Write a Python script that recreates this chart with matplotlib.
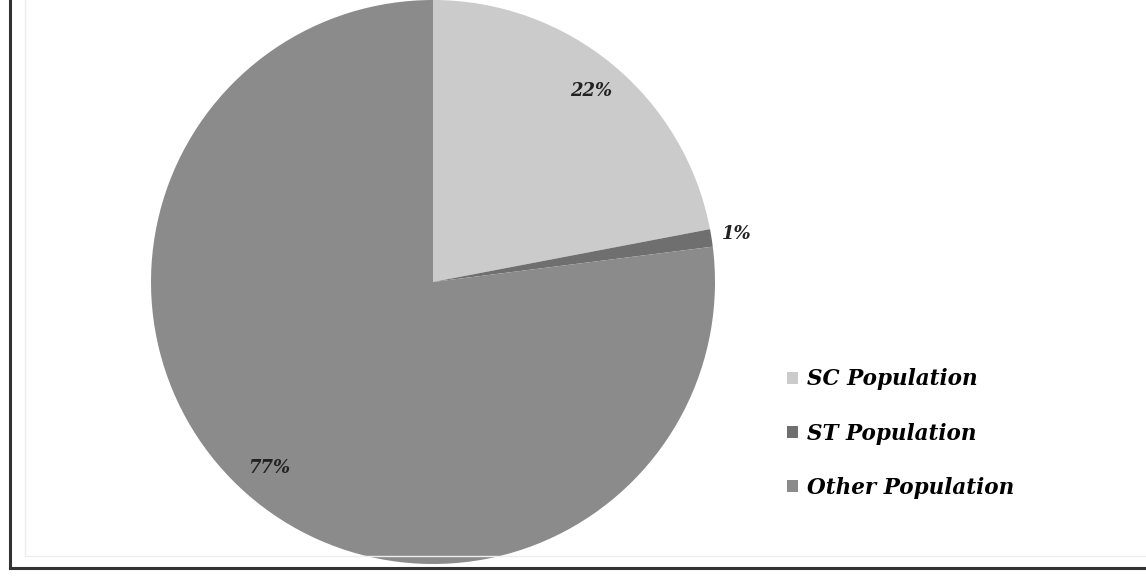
import numpy as np
import matplotlib.pyplot as plt
from matplotlib.lines import Line2D

labels = ['SC Population', 'ST Population', 'Other Population']
values = [22, 1, 77]
colors = ['#cbcbcb', '#6f6f6f', '#8b8b8b']

fig = plt.figure(figsize=(11.46, 5.76), dpi=100)
W, H = 1146, 576

# outer frame (only left and bottom edges visible)
fig.add_artist(Line2D([10/W, 10/W], [8/H, 1], color='#333333', lw=2.2))
fig.add_artist(Line2D([10/W, 1], [8/H, 8/H], color='#333333', lw=2.2))
fig.add_artist(Line2D([25/W, 25/W], [20/H, 1], color='#ececec', lw=1))
fig.add_artist(Line2D([25/W, 1], [20/H, 20/H], color='#ececec', lw=1))

ax = fig.add_axes([151/W, 12/H, 564/W, 564/H])
wedges, texts, autotexts = ax.pie(values, colors=colors, startangle=90, counterclock=False,
                                  autopct='%.0f%%', pctdistance=0.88, radius=1,
                                  textprops=dict(family='DejaVu Serif', weight='bold',
                                                 style='italic', fontsize=13, color='#222222'))
# small slice label goes outside
for w, t, v in zip(wedges, autotexts, values):
    if v < 5:
        ang = np.deg2rad((w.theta1 + w.theta2) / 2)
        t.set_position((1.09 * np.cos(ang), 1.09 * np.sin(ang)))
ax.set_xlim(-1, 1)
ax.set_ylim(-1, 1)
ax.set_aspect('equal')
ax.axis('off')

fig.legend(wedges, labels, loc='upper left', bbox_to_anchor=(768/W, 1 - 349/H),
           frameon=False, handlelength=0.5, handleheight=0.5, handletextpad=0.4,
           labelspacing=1.5,
           prop=dict(family='DejaVu Serif', weight='bold', style='italic', size=15.5))

fig.savefig('out.png', dpi=100)
